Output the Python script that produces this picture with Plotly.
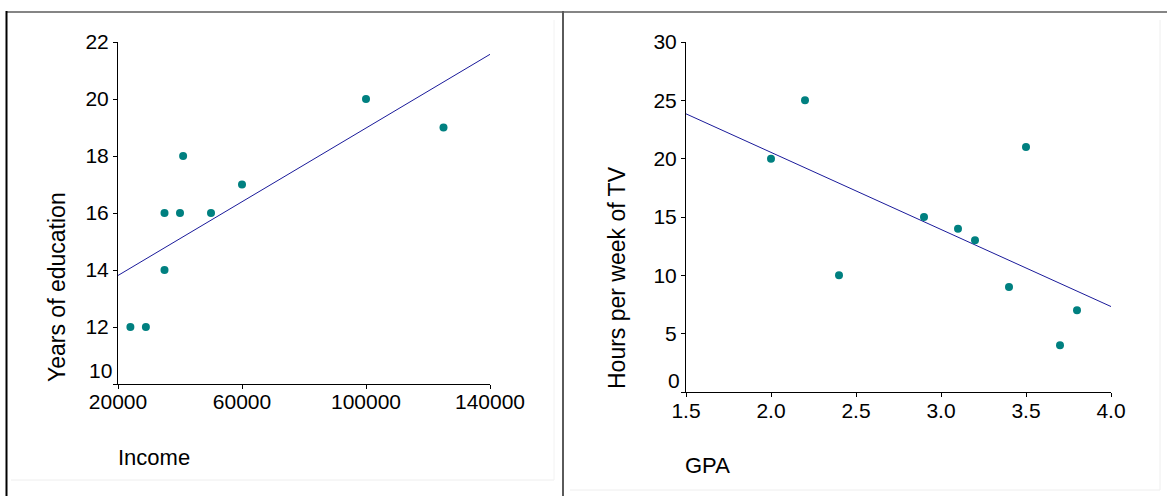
import numpy as np
import plotly.graph_objects as go

# ---------------- data ----------------
income = [24000, 29000, 35000, 35000, 40000, 41000, 50000, 60000, 100000, 125000]
education = [12, 12, 14, 16, 16, 18, 16, 17, 20, 19]

gpa = [2.0, 2.2, 2.4, 2.9, 3.1, 3.2, 3.4, 3.5, 3.7, 3.8]
tv_hours = [20, 25, 10, 15, 14, 13, 9, 21, 4, 7]

income_ticks = [20000, 60000, 100000, 140000]
income_ticklabels = ["20000", "60000", "100000", "140000"]
edu_ticks = [10, 12, 14, 16, 18, 20, 22]
edu_ticklabels = ["10", "12", "14", "16", "18", "20", "22"]
gpa_ticks = [1.5, 2.0, 2.5, 3.0, 3.5, 4.0]
gpa_ticklabels = ["1.5", "2.0", "2.5", "3.0", "3.5", "4.0"]
tv_ticks = [0, 5, 10, 15, 20, 25, 30]
tv_ticklabels = ["0", "5", "10", "15", "20", "25", "30"]

income_range = [20000, 140000]
edu_range = [10, 22]
gpa_range = [1.5, 4.0]
tv_range = [0, 30]

# least-squares fit lines
s1, b1 = np.polyfit(income, education, 1)
s2, b2 = np.polyfit(gpa, tv_hours, 1)
fit1_x = income_range
fit1_y = [s1 * v + b1 for v in fit1_x]
fit2_x = gpa_range
fit2_y = [s2 * v + b2 for v in fit2_x]

W, H = 1167, 496
FONT = "Liberation Sans, Arial, sans-serif"
TEAL = "#008080"
NAVY = "#1a1a9a"

def px(x):
    return x / W

def py(y):
    return 1 - y / H

fig = go.Figure()
fig.add_trace(go.Scatter(x=fit1_x, y=fit1_y, mode="lines",
                         line=dict(color=NAVY, width=1), xaxis="x", yaxis="y",
                         showlegend=False, hoverinfo="skip"))
fig.add_trace(go.Scatter(x=income, y=education, mode="markers",
                         marker=dict(color=TEAL, size=8), xaxis="x", yaxis="y",
                         showlegend=False))
fig.add_trace(go.Scatter(x=fit2_x, y=fit2_y, mode="lines",
                         line=dict(color=NAVY, width=1), xaxis="x2", yaxis="y2",
                         showlegend=False, hoverinfo="skip"))
fig.add_trace(go.Scatter(x=gpa, y=tv_hours, mode="markers",
                         marker=dict(color=TEAL, size=8), xaxis="x2", yaxis="y2",
                         showlegend=False))

tick_font = dict(family=FONT, size=21, color="black")
axis_common = dict(showline=True, linecolor="black", linewidth=1,
                   ticks="outside", ticklen=4, tickcolor="black", tickwidth=1,
                   showgrid=False, zeroline=False, automargin=False,
                   tickfont=tick_font)

# the lowest y label sits a little above its tick (as in the reference),
# so it is drawn as an annotation next to the axis
edu_axis_text = [""] + edu_ticklabels[1:]
tv_axis_text = [""] + tv_ticklabels[1:]

fig.update_layout(
    width=W, height=H, autosize=False, showlegend=False,
    margin=dict(l=0, r=0, t=0, b=0, pad=0, autoexpand=False),
    paper_bgcolor="white", plot_bgcolor="white",
    font=dict(family=FONT, color="black"),
    xaxis=dict(domain=[px(118), px(490)], range=income_range,
               tickvals=income_ticks, ticktext=income_ticklabels, anchor="y",
               ticklabelstandoff=-5, **axis_common),
    yaxis=dict(domain=[py(384), py(42)], range=edu_range,
               tickvals=edu_ticks, ticktext=edu_axis_text, anchor="x", **axis_common),
    xaxis2=dict(domain=[px(686), px(1111)], range=gpa_range,
                tickvals=gpa_ticks, ticktext=gpa_ticklabels, anchor="y2",
                ticklabelstandoff=-4, **axis_common),
    yaxis2=dict(domain=[py(392), py(42)], range=tv_range,
                tickvals=tv_ticks, ticktext=tv_axis_text, anchor="x2", **axis_common),
)

# lowest y tick labels
fig.add_annotation(text=edu_ticklabels[0], x=px(114), y=py(370), xref="paper", yref="paper",
                   showarrow=False, xanchor="right", yanchor="middle", font=tick_font)
fig.add_annotation(text=tv_ticklabels[0], x=px(682), y=py(380), xref="paper", yref="paper",
                   showarrow=False, xanchor="right", yanchor="middle", font=tick_font)

title_font = dict(family=FONT, size=23, color="black")
xt_font = dict(family=FONT, size=22, color="black")
fig.add_annotation(text="Years of education", x=px(57), y=py(287), xref="paper", yref="paper",
                   textangle=-90, showarrow=False, xanchor="center", yanchor="middle", font=title_font)
fig.add_annotation(text="Hours per week of TV", x=px(617), y=py(278), xref="paper", yref="paper",
                   textangle=-90, showarrow=False, xanchor="center", yanchor="middle", font=title_font)
fig.add_annotation(text="Income", x=px(116), y=py(457), xref="paper", yref="paper",
                   showarrow=False, xanchor="left", yanchor="middle", font=xt_font)
fig.add_annotation(text="GPA", x=px(683), y=py(465), xref="paper", yref="paper",
                   showarrow=False, xanchor="left", yanchor="middle", font=xt_font)

# frame lines
def line(x0, y0, x1, y1, color, width):
    fig.add_shape(type="line", xref="paper", yref="paper",
                  x0=px(x0), y0=py(y0), x1=px(x1), y1=py(y1),
                  line=dict(color=color, width=width))

line(6, 12, W, 12, "#858585", 2)
line(6.5, 11, 6.5, H, "black", 2)
line(563, 11, 563, H, "#5a5a5a", 2)
line(11, 480, 554, 480, "#eeeeee", 1)
line(554, 20, 554, 480, "#f2f2f2", 1)
line(570, 490, 1160, 490, "#eeeeee", 1)
line(1160, 20, 1160, 490, "#eeeeee", 1)

fig.write_html("out.html", config={"displayModeBar": False},
               post_script="document.body.style.margin='0px';document.body.style.overflow='hidden';")
